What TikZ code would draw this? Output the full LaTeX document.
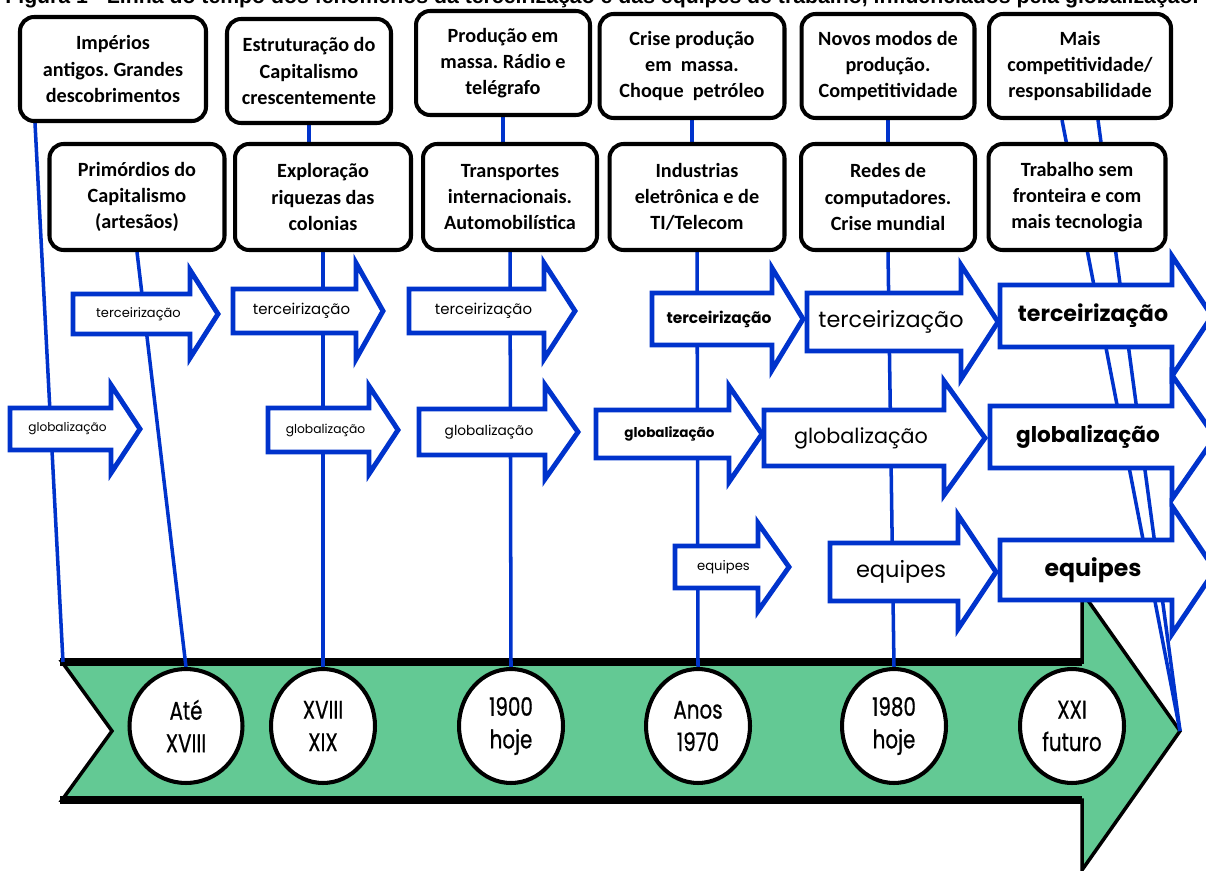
\documentclass[tikz,border=0pt]{standalone}
\usepackage{fontspec}
\setmainfont{Carlito}
\newfontfamily\setafont{Poppins}
\newfontfamily\ciclofont[FakeStretch=0.78, FakeBold=0.6]{Poppins}
\newfontfamily\titulofont{Liberation Sans}
\usetikzlibrary{shapes.geometric}
\frenchspacing

\definecolor{azul}{RGB}{0,51,204}
\definecolor{verde}{RGB}{99,201,148}

\tikzstyle{caixa} = [rectangle, rounded corners=8pt, draw=black, line width=2.3pt, fill=white, align=center, inner sep=0pt, minimum height=2.08cm, font=\bfseries\fontsize{11.5}{15}\selectfont]
\tikzstyle{ciclo} = [ellipse, draw=black, line width=2.3pt, fill=white, align=center, inner sep=0pt, minimum width=2.08cm, minimum height=2.28cm, font=\ciclofont\fontsize{14.5}{18.5}\selectfont]
\tikzstyle{seta} = [draw=azul, line width=2.8pt, fill=white]
\tikzstyle{conector} = [draw=azul, line width=2pt]
\tikzstyle{rotulo} = [inner sep=0pt]

\pgfdeclarelayer{fundo}
\pgfsetlayers{fundo,main}

% block arrow: name, x tail, x head, x tip, y, half body, half head, size, text
\newcommand{\fenomeno}[9]{%
  \draw[seta] (#2,#5-#6) -- (#3,#5-#6) -- (#3,#5-#7) -- (#4,#5) -- (#3,#5+#7) -- (#3,#5+#6) -- (#2,#5+#6) -- cycle;
  \node[rotulo, font=\setafont\fontsize{#8}{#8}\selectfont] (#1) at ({(#2+#3)/2+7},#5) {#9};}

\begin{document}
\begin{tikzpicture}[x=0.02cm, y=-0.02cm]
\useasboundingbox (0,0) rectangle (1206,871);

\node[anchor=base west, inner sep=0pt, font=\titulofont\bfseries\fontsize{12.1}{14}\selectfont] (titulo) at (5,4) {Figura 1 - Linha do tempo dos fenômenos da terceirização e das equipes de trabalho, influenciados pela globalização.};

% top row
\node (b1) [caixa, minimum width=3.72cm] at (113,69) {Impérios\\antigos. Grandes\\descobrimentos};
\node (b2) [caixa, minimum width=3.28cm] at (309,71) {Estruturação do\\Capitalismo\\crescentemente};
\node (b3) [caixa, minimum width=3.48cm] at (503,63) {Produção em\\massa. Rádio e\\telégrafo};
\node (b4) [caixa, minimum width=3.70cm] at (692,66) {Crise produção\\em~ massa.\\Choque~ petróleo};
\node (b5) [caixa, minimum width=3.46cm] at (888,66) {Novos modos de\\produção.\\Competitividade};
\node (b6) [caixa, minimum width=3.64cm] at (1080,66) {Mais\\competitividade/\\responsabilidade};

% second row
\node (bA) [caixa, minimum width=3.50cm, minimum height=2.12cm] at (137,197) {Primórdios do\\Capitalismo\\(artesãos)};
\node (bB) [caixa, minimum width=3.52cm, minimum height=2.12cm] at (323,197) {Exploração\\riquezas das\\colonias};
\node (bC) [caixa, minimum width=3.48cm, minimum height=2.12cm] at (510,197) {Transportes\\internacionais.\\Automobilística};
\node (bD) [caixa, minimum width=3.50cm, minimum height=2.12cm] at (697,197) {Industrias\\eletrônica e de\\TI/Telecom};
\node (bE) [caixa, minimum width=3.48cm, minimum height=2.12cm] at (888,197) {Redes de\\computadores.\\Crise mundial};
\node (bF) [caixa, minimum width=3.54cm, minimum height=2.12cm] at (1077,197) {Trabalho sem\\fronteira e com\\mais tecnologia};

% periods
\node (c1) [ciclo, minimum width=2.26cm] at (186,726) {Até\\XVIII};
\node (c2) [ciclo] at (323,726) {XVIII\\XIX};
\node (c3) [ciclo] at (511,726) {1900\\hoje};
\node (c4) [ciclo] at (698,726) {Anos\\1970};
\node (c5) [ciclo] at (894,726) {1980\\hoje};
\node (c6) [ciclo] at (1072,726) {XXI\\futuro};

\coordinate (cauda) at (63,662);
\coordinate (ponta) at (1180,731);

\begin{pgfonlayer}{fundo}
\draw[fill=verde, draw=black, line width=2pt] (62,662) -- (1082,662) -- (1082,592) -- (ponta) -- (1082,870) -- (1082,800) -- (62,800) -- (112,731) -- cycle;
\draw[line width=4.5pt] (60,662) -- (1082,662) (60,800) -- (1082,800);

\draw[conector] ([xshift=0.34cm]b1.south west) -- (cauda);
\draw[conector] (bA.south) -- (c1.north);
\draw[conector] (b2.south) -- (b2.south |- bB.north);
\draw[conector] (bB.south) -- (c2.north);
\draw[conector] (b3.south) -- (b3.south |- bC.north);
\draw[conector] (bC.south) -- (c3.north);
\draw[conector] (b4.south) -- (b4.south |- bD.north);
\draw[conector] (bD.south) -- (c4.north);
\draw[conector] (b5.south) -- (b5.south |- bE.north);
\draw[conector] (bE.south) -- (c5.north);
\draw[conector] ([xshift=-0.36cm]b6.south) -- (ponta);
\draw[conector] ([xshift=0.36cm]b6.south) -- (ponta);
\end{pgfonlayer}

% terceirização
\fenomeno{t1}{73}{190}{218}{314}{20}{44}{7.4}{terceirização}
\fenomeno{t2}{233}{356}{383}{311}{22}{48}{8.5}{terceirização}
\fenomeno{t3}{409}{544}{575}{311}{22}{48}{8.5}{terceirização}
\fenomeno{t4}{652}{772}{803}{319}{26}{51}{8.8}{\bfseries terceirização}
\fenomeno{t5}{807}{961}{998}{322}{29}{57}{12.7}{terceirização}
\fenomeno{t6}{1000}{1172}{1212}{316}{31}{60}{12.6}{\bfseries terceirização}
% globalização
\fenomeno{g1}{10}{111}{140}{429}{21}{44}{6.9}{globalização}
\fenomeno{g2}{268}{369}{398}{430}{22}{44}{7.0}{globalização}
\fenomeno{g3}{419}{545}{578}{432}{23}{47}{7.8}{globalização}
\fenomeno{g4}{596}{729}{762}{434}{24}{48}{7.7}{\bfseries globalização}
\fenomeno{g5}{764}{944}{985}{438}{28}{57}{11.8}{globalização}
\fenomeno{g6}{990}{1172}{1215}{437}{31}{62}{12.3}{\bfseries globalização}
% equipes
\fenomeno{e4}{675}{758}{789}{567}{21}{44}{7.5}{equipes}
\fenomeno{e5}{830}{958}{996}{572}{29}{57}{12.8}{equipes}
\fenomeno{e6}{1000}{1172}{1215}{570}{30}{64}{13.4}{\bfseries equipes}

\end{tikzpicture}
\end{document}
